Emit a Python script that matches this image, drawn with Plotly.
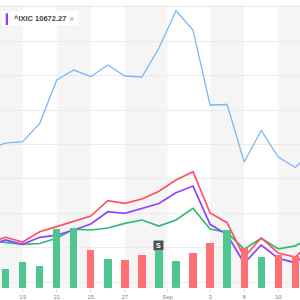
import plotly.graph_objects as go

# Trading days (Aug 17 .. Sep 14, 2020); x = trading-day index
dates = ["Aug 17", "Aug 18", "Aug 19", "Aug 20", "Aug 21", "Aug 24", "Aug 25", "Aug 26",
         "Aug 27", "Aug 28", "Aug 31", "Sep 1", "Sep 2", "Sep 3", "Sep 4", "Sep 8",
         "Sep 9", "Sep 10", "Sep 11", "Sep 14"]
xpos = list(range(len(dates)))

# % change series (comparison chart)
blue_pct = [9.33, 10.20, 10.39, 13.04, 19.36, 20.81, 19.87, 21.54, 19.94, 19.80,
            24.01, 29.43, 26.63, 15.73, 15.80, 7.44, 12.02, 8.17, 6.64, 9.04]
red_pct = [-4.33, -3.50, -4.19, -2.69, -1.96, -1.24, -0.41, 1.82, 1.44, 2.06,
           3.18, 4.83, 6.03, 0.03, -1.38, -6.37, -3.58, -5.78, -6.37, -4.04]
ixic_pct = [-4.65, -3.90, -4.52, -3.50, -3.17, -2.44, -1.57, 0.22, -0.01, 0.71,
            1.41, 2.98, 3.95, -1.61, -3.10, -7.28, -4.62, -6.56, -7.19, -5.35]
green_pct = [-3.97, -4.23, -4.52, -4.40, -3.65, -2.30, -2.44, -2.15, -1.47, -0.99,
             -1.86, -0.99, 0.71, -2.30, -2.81, -5.23, -3.65, -5.17, -4.74, -3.46]

# Volume bars (Aug 18 .. Sep 11), billions
vol_x = xpos[1:19]
volume_bn = [1.32, 1.86, 1.58, 4.17, 4.26, 2.69, 2.05, 1.98, 2.33, 2.61,
             1.93, 2.49, 3.20, 4.10, 2.83, 2.21, 2.30, 2.23]
vol_dir = ["up", "up", "up", "up", "up", "down", "up", "down", "down", "up",
           "up", "down", "down", "up", "down", "up", "down", "down"]

tick_vals = [2, 4, 6, 8, 10.5, 13, 15, 17]
tick_text = ["19", "21", "25", "27", "Sep", "3", "8", "10"]

split_index = 10  # Aug 31 split marker
legend_label = "^IXIC 10672.27"

GREEN_BAR = "#4ec68f"
RED_BAR = "#ff6f73"

fig = go.Figure()

fig.add_trace(go.Bar(
    x=vol_x, y=volume_bn, yaxis="y2", width=0.43,
    marker=dict(color=[GREEN_BAR if d == "up" else RED_BAR for d in vol_dir], line=dict(width=0)),
    showlegend=False, hoverinfo="skip"))

fig.add_trace(go.Scatter(x=xpos, y=blue_pct, mode="lines",
                         line=dict(color="#78b8f7", width=1.3), showlegend=False))
fig.add_trace(go.Scatter(x=xpos, y=green_pct, mode="lines",
                         line=dict(color="#2dba71", width=1.7), showlegend=False))
fig.add_trace(go.Scatter(x=xpos, y=red_pct, mode="lines",
                         line=dict(color="#ff5060", width=1.7), showlegend=False))
fig.add_trace(go.Scatter(x=xpos, y=ixic_pct, mode="lines",
                         line=dict(color="#9046ff", width=1.8), showlegend=False))

# alternating vertical bands
band_edges = [(-1, tick_vals[0]), (tick_vals[1], tick_vals[2]), (tick_vals[3], tick_vals[4]),
              (tick_vals[5], tick_vals[6]), (tick_vals[7], 21)]
shapes = []
for a, b in band_edges:
    shapes.append(dict(type="rect", xref="x", yref="paper", x0=a, x1=b, y0=0, y1=1,
                       fillcolor="#f5f5f5", line=dict(width=0), layer="below"))

# legend chip
H = 283.0
def py(p):
    return (288 - p) / H

shapes.append(dict(type="rect", xref="paper", yref="paper", x0=2/300, x1=78/300,
                   y0=py(25.5), y1=py(11), fillcolor="white", line=dict(width=0), layer="above"))
shapes.append(dict(type="rect", xref="paper", yref="paper", x0=5.7/300, x1=8/300,
                   y0=py(25), y1=py(13.3), fillcolor="#8f3cff", line=dict(width=0), layer="above"))

annotations = [
    dict(xref="paper", yref="paper", x=12/300, y=py(18.5), xanchor="left", yanchor="middle",
         text="<b>" + legend_label + "</b>", showarrow=False,
         font=dict(family="Liberation Sans, Arial", size=7.5, color="#404040")),
    dict(xref="paper", yref="paper", x=71/300, y=py(18.5), xanchor="center", yanchor="middle",
         text="×", showarrow=False, font=dict(family="Liberation Sans, Arial", size=9, color="#a0a0a0")),
    dict(x=split_index, y=volume_bn[split_index - 1], xref="x", yref="y2",
         xanchor="center", yanchor="bottom", text="<b>S</b>", showarrow=False,
         bgcolor="#4a5058", width=9, height=9, borderpad=0,
         font=dict(family="Liberation Sans, Arial", size=7, color="white")),
]

fig.update_layout(
    width=300, height=300,
    margin=dict(l=0, r=0, t=5, b=12),
    paper_bgcolor="white", plot_bgcolor="white",
    bargap=0,
    shapes=shapes, annotations=annotations,
    xaxis=dict(range=[0.671, 18.277], tickvals=tick_vals, ticktext=tick_text,
               showgrid=False, zeroline=False, ticks="outside", ticklen=3,
               tickcolor="#dddddd", tickfont=dict(family="Liberation Sans, Arial", size=6, color="#888888"),
               showline=False, fixedrange=True),
    yaxis=dict(range=[-10.87, 30.26], dtick=5, tick0=0, showticklabels=False,
               showgrid=True, gridcolor="#ebebeb", gridwidth=1, zeroline=False, fixedrange=True),
    yaxis2=dict(range=[0, 20], overlaying="y", showticklabels=False, showgrid=False,
                zeroline=False, fixedrange=True),
)

fig.write_html("out.html", config={"displayModeBar": False})
